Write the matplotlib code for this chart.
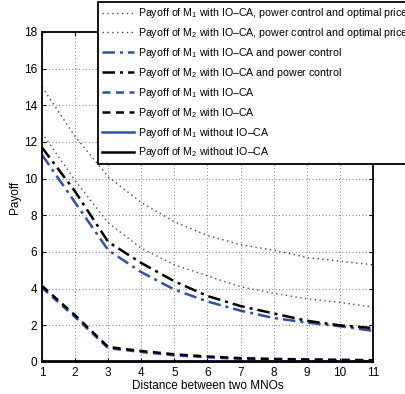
import numpy as np
import matplotlib
matplotlib.use("Agg")
import matplotlib.pyplot as plt

plt.rcParams["font.family"] = ["Liberation Sans", "DejaVu Sans"]
plt.rcParams["mathtext.fontset"] = "custom"
plt.rcParams["mathtext.rm"] = "Liberation Sans"
plt.rcParams["mathtext.it"] = "Liberation Sans:italic"

# ----- data -----
distance = [1, 2, 3, 4, 5, 6, 7, 8, 9, 10, 11]

m1_opt_price = [12.5, 9.9, 7.6, 6.2, 5.3, 4.7, 4.1, 3.75, 3.45, 3.25, 3.0]
m2_opt_price = [15.0, 12.3, 10.1, 8.7, 7.65, 6.9, 6.4, 6.1, 5.7, 5.5, 5.3]
m1_power = [11.3, 8.7, 6.1, 4.9, 3.95, 3.3, 2.8, 2.4, 2.15, 1.95, 1.7]
m2_power = [11.7, 9.3, 6.55, 5.4, 4.4, 3.6, 3.05, 2.65, 2.25, 2.0, 1.85]
m1_ioca = [4.05, 2.45, 0.75, 0.55, 0.36, 0.26, 0.17, 0.14, 0.12, 0.1, 0.09]
m2_ioca = [4.15, 2.55, 0.82, 0.6, 0.42, 0.3, 0.21, 0.17, 0.14, 0.12, 0.1]
m1_none = [0.05] * 11
m2_none = [0.06] * 11

BLUE = "#2f50a8"
DOT = (0, (1, 2.5))
DASHDOT = (0, (5, 2, 1.2, 2))
DASH = (0, (3.2, 2.2))

fig = plt.figure(figsize=(4.06, 3.94), dpi=100)
ax = fig.add_axes([42 / 406, 1 - 362 / 394, 331 / 406, 330 / 394])

ax.plot(distance, m1_opt_price, linestyle=DOT, color=BLUE, lw=1.0,
        label="Payoff of M$_1$ with IO\u2013CA, power control and optimal price")
ax.plot(distance, m2_opt_price, linestyle=DOT, color="#444444", lw=1.0,
        label="Payoff of M$_2$ with IO\u2013CA, power control and optimal price")
ax.plot(distance, m1_power, linestyle=DASHDOT, color=BLUE, lw=1.8,
        label="Payoff of M$_1$ with IO\u2013CA and power control")
ax.plot(distance, m2_power, linestyle=DASHDOT, color="black", lw=1.8,
        label="Payoff of M$_2$ with IO\u2013CA and power control")
ax.plot(distance, m1_ioca, linestyle=DASH, color=BLUE, lw=1.8,
        label="Payoff of M$_1$ with IO\u2013CA")
ax.plot(distance, m2_ioca, linestyle=DASH, color="black", lw=1.8,
        label="Payoff of M$_2$ with IO\u2013CA")
ax.plot(distance, m1_none, "-", color=BLUE, lw=1.8,
        label="Payoff of M$_1$ without IO\u2013CA")
ax.plot(distance, m2_none, "-", color="black", lw=1.8,
        label="Payoff of M$_2$ without IO\u2013CA")

ax.set_xlim(1, 11)
ax.set_ylim(0, 18)
ax.set_xticks(range(1, 12))
ax.set_yticks(range(0, 19, 2))
ax.tick_params(direction="in", labelsize=8.5, length=3, top=True, right=True)
ax.grid(True, linestyle=(0, (1, 3)), color="#555555", lw=0.6)
for sp in ax.spines.values():
    sp.set_linewidth(1.3)

ax.set_xlabel("Distance between two MNOs", fontsize=8.5, labelpad=1)
ax.set_ylabel("Payoff", fontsize=8.5, labelpad=2)

leg = ax.legend(loc="upper left", bbox_to_anchor=(98 / 406, 1 - 2 / 394),
                bbox_transform=fig.transFigure, fontsize=7.7, frameon=True,
                fancybox=False, framealpha=1, edgecolor="black",
                handlelength=3.0, handletextpad=0.3, labelspacing=0.55,
                borderpad=0.4, borderaxespad=0)
leg.get_frame().set_linewidth(1.3)

fig.savefig("out.png", dpi=100)
